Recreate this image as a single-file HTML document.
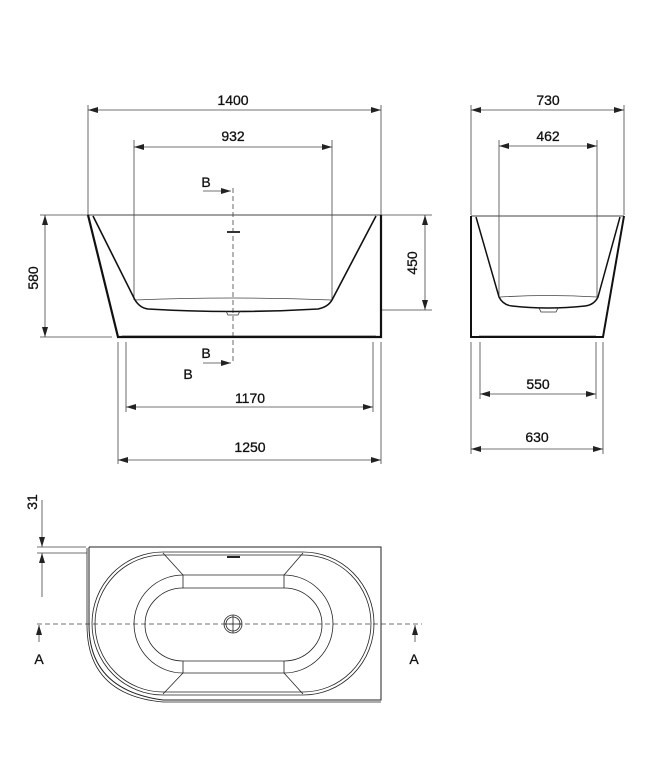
<!DOCTYPE html>
<html><head><meta charset="utf-8"><style>
html,body{margin:0;padding:0;background:#fff}
svg{display:block}
text{font-family:"Liberation Sans",sans-serif;font-size:14px;fill:#111;stroke:#111;stroke-width:0.3}
</style></head><body>
<svg width="652" height="760" viewBox="0 0 652 760" xmlns="http://www.w3.org/2000/svg">
<defs>
<marker id="a" viewBox="0 0 10 6" refX="10" refY="3" markerWidth="10" markerHeight="6" orient="auto-start-reverse" markerUnits="userSpaceOnUse"><path d="M0,0L10,3L0,6z" fill="#222"/></marker>
</defs>
<g stroke="#444" stroke-width="0.8" fill="none">
<path d="M88,105V215M381,105V215M134,140V300M332,140V300M40,215H88M40,337H112M381,310H432M380,215H432M118,342V464M381,342V464M126,342V412M373,342V412"/>
<line x1="88" y1="110" x2="381" y2="110" marker-start="url(#a)" marker-end="url(#a)"/>
<line x1="134" y1="147" x2="332" y2="147" marker-start="url(#a)" marker-end="url(#a)"/>
<line x1="45" y1="215" x2="45" y2="337" marker-start="url(#a)" marker-end="url(#a)"/>
<line x1="425" y1="215" x2="425" y2="310" marker-start="url(#a)" marker-end="url(#a)"/>
<line x1="126" y1="407" x2="373" y2="407" marker-start="url(#a)" marker-end="url(#a)"/>
<line x1="118" y1="460" x2="381" y2="460" marker-start="url(#a)" marker-end="url(#a)"/>
<line x1="203" y1="191" x2="231" y2="191" marker-end="url(#a)"/>
<line x1="203" y1="363" x2="231" y2="363" marker-end="url(#a)"/>
<path d="M233,188V362" stroke-dasharray="5,3"/>
<path d="M88,215H381" stroke-width="1"/>
<path d="M135,300Q233,296 332,300"/>
<path d="M122,336H376"/>
<path d="M88,215L118,337H381V215" stroke="#111" stroke-width="2.2"/>
<path d="M93,216L135,300Q140,308 148,309Q233,314 318,309Q328,307 332,300L376,216" stroke="#111" stroke-width="1.6"/>
<path d="M226,311L228,315H238L240,311" stroke="#333"/>
<path d="M227,232H240" stroke="#333" stroke-width="2"/>
<path d="M471,105V215M624,105V215M499,140V297M597,140V297M480,342V399M596,342V399M471,342V454M603,342V454"/>
<line x1="471" y1="110" x2="624" y2="110" marker-start="url(#a)" marker-end="url(#a)"/>
<line x1="499" y1="146" x2="597" y2="146" marker-start="url(#a)" marker-end="url(#a)"/>
<line x1="480" y1="394" x2="596" y2="394" marker-start="url(#a)" marker-end="url(#a)"/>
<line x1="471" y1="449" x2="603" y2="449" marker-start="url(#a)" marker-end="url(#a)"/>
<path d="M471,216H624" stroke-width="1"/>
<path d="M500,297Q548,294 597,297"/>
<path d="M479,336H596"/>
<path d="M471,216V337H603L624,216" stroke="#111" stroke-width="2"/>
<path d="M476,217L499,297Q503,305 512,306Q548,310 585,306Q594,305 598,297L620,217" stroke="#111" stroke-width="1.5"/>
<path d="M539,308L541,312H556L558,308" stroke="#333"/>
<path d="M37,547H86M37,553H87"/>
<line x1="42" y1="500" x2="42" y2="547" marker-end="url(#a)"/>
<line x1="42" y1="597" x2="42" y2="553" marker-end="url(#a)"/>
<path d="M37,624H422" stroke-dasharray="5,3"/>
<line x1="39" y1="642" x2="39" y2="625" marker-end="url(#a)"/>
<line x1="415" y1="642" x2="415" y2="625" marker-end="url(#a)"/>
<path d="M89,547H381V700H163Q89,690 89,625V547" stroke="#222" stroke-width="1"/>
<path d="M87,548V625Q87,695 163,702H381" stroke="#222" stroke-width="0.8"/>
<path d="M163,552H303A71,71.5 0 0 1 303,695H163A71,71.5 0 0 1 163,552Z" stroke="#222"/>
<path d="M163,555H303A68,68.5 0 0 1 303,692H163A68,68.5 0 0 1 163,555Z" stroke="#222"/>
<path d="M183,575H284A49,49 0 0 1 284,673H183A49,49 0 0 1 183,575Z" stroke="#222"/>
<path d="M183,588H284A38,36.5 0 0 1 284,661H183A38,36.5 0 0 1 183,588Z" stroke="#222"/>
<path d="M163,553L183,575V588M303,553L284,575V588M163,694L183,673V661M303,694L284,673V661" stroke="#222"/>
<circle cx="233" cy="624" r="9" stroke="#222"/>
<circle cx="233" cy="624" r="7" stroke="#222"/>
<path d="M224,624H242M233,615V633" stroke="#222"/>
<path d="M227,557H240" stroke="#222" stroke-width="2"/>
</g>
<text x="233" y="105" text-anchor="middle">1400</text>
<text x="233" y="141" text-anchor="middle">932</text>
<text x="250" y="403" text-anchor="middle">1170</text>
<text x="250" y="452" text-anchor="middle">1250</text>
<text x="548" y="105" text-anchor="middle">730</text>
<text x="548" y="141" text-anchor="middle">462</text>
<text x="538" y="389" text-anchor="middle">550</text>
<text x="537" y="442" text-anchor="middle">630</text>
<text transform="translate(38,278) rotate(-90)" text-anchor="middle">580</text>
<text transform="translate(417,263) rotate(-90)" text-anchor="middle">450</text>
<text transform="translate(37,502) rotate(-90)" text-anchor="middle">31</text>
<text x="206" y="187" text-anchor="middle">B</text>
<text x="206" y="358" text-anchor="middle">B</text>
<text x="188" y="379" text-anchor="middle">B</text>
<text x="39" y="664" text-anchor="middle">A</text>
<text x="414" y="664" text-anchor="middle">A</text>
</svg>
</body></html>
